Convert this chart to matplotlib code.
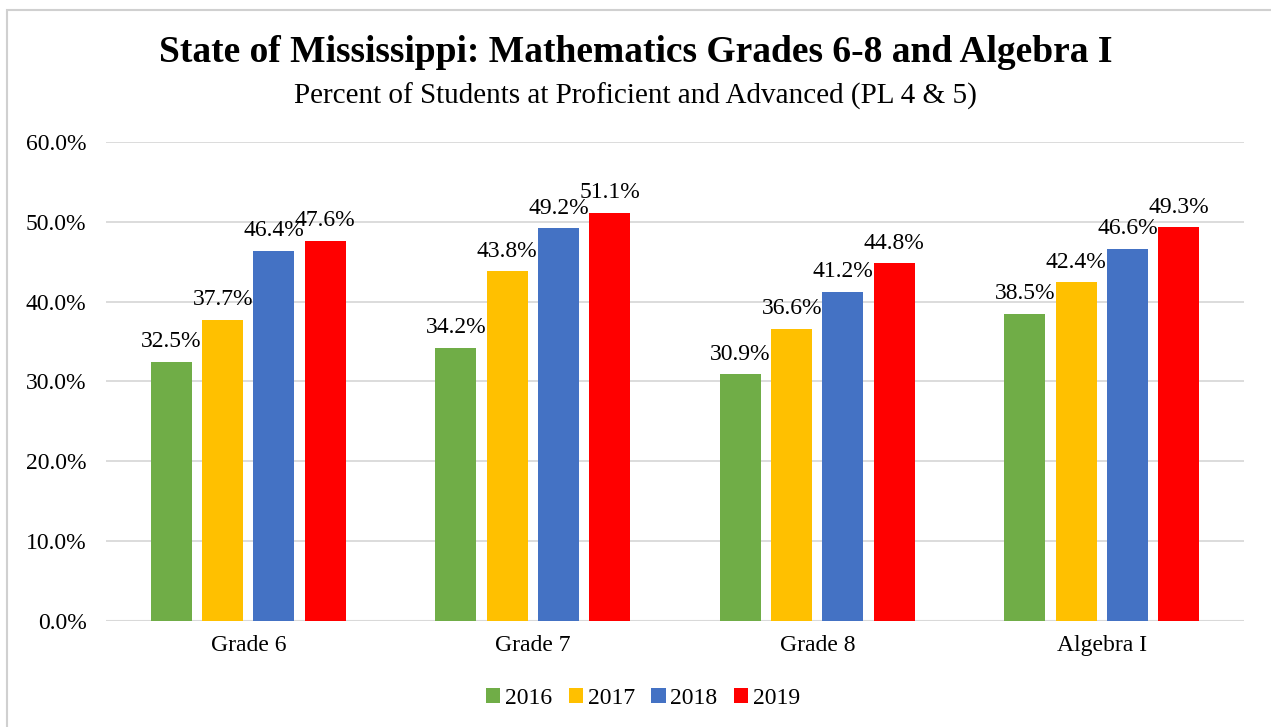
import numpy as np
import matplotlib.pyplot as plt
from matplotlib.patches import Rectangle

plt.rcParams['font.family'] = ['Liberation Serif', 'DejaVu Serif']

groups = ["Grade 6", "Grade 7", "Grade 8", "Algebra I"]
years = ["2016", "2017", "2018", "2019"]
v2016 = [32.5, 34.2, 30.9, 38.5]
v2017 = [37.7, 43.8, 36.6, 42.4]
v2018 = [46.4, 49.2, 41.2, 46.6]
v2019 = [47.6, 51.1, 44.8, 49.3]
colors = ["#70AD47", "#FFC000", "#4472C4", "#FF0000"]

fig = plt.figure(figsize=(12.71, 7.27), dpi=100)
ax = fig.add_axes([0.0834, 0.1458, 0.8954, 0.6589])

# outer chart border
fig.patches.append(Rectangle((7/1271, -0.01), 1.0, 1 - 10/727 + 0.01,
                             transform=fig.transFigure, fill=False,
                             edgecolor="#D0D0D0", linewidth=1.5))

x = np.arange(len(groups))
width = 0.144
offsets = [-0.27, -0.09, 0.09, 0.27]
for vals, yr, c, off in zip([v2016, v2017, v2018, v2019], years, colors, offsets):
    bars = ax.bar(x + off, vals, width, color=c, label=yr, zorder=3)
    for b, v in zip(bars, vals):
        ax.text(b.get_x() + b.get_width() / 2, v + 1.2, f"{v:.1f}%",
                ha="center", va="bottom", fontsize=17, zorder=4)

ax.set_xlim(-0.5, 3.5)
ax.set_ylim(0, 60)
ax.set_yticks(np.arange(0, 61, 10))
ax.set_yticklabels([f"{t:.1f}%" for t in np.arange(0, 61, 10)], fontsize=17)
ax.set_xticks(x)
ax.set_xticklabels(groups, fontsize=17)
ax.tick_params(length=0)
ax.tick_params(axis="x", pad=10)
ax.tick_params(axis="y", pad=14)
ax.grid(axis="y", color="#D9D9D9", linewidth=1.3, zorder=0)
for s in ax.spines.values():
    s.set_visible(False)
ax.axhline(0, color="#D9D9D9", linewidth=1.5, zorder=2)

fig.text(0.5, 1 - 53/727, "State of Mississippi: Mathematics Grades 6-8 and Algebra I",
         ha="center", va="center", fontsize=27, fontweight="bold")
fig.text(0.5, 1 - 96/727, "Percent of Students at Proficient and Advanced (PL 4 & 5)",
         ha="center", va="center", fontsize=21)

fig.legend(loc="center", bbox_to_anchor=(0.506, 1 - 698/727), ncol=4, frameon=False,
           fontsize=17, handlelength=0.6, handleheight=0.6, handletextpad=0.2,
           columnspacing=0.7)

fig.savefig("out.png", dpi=100)
